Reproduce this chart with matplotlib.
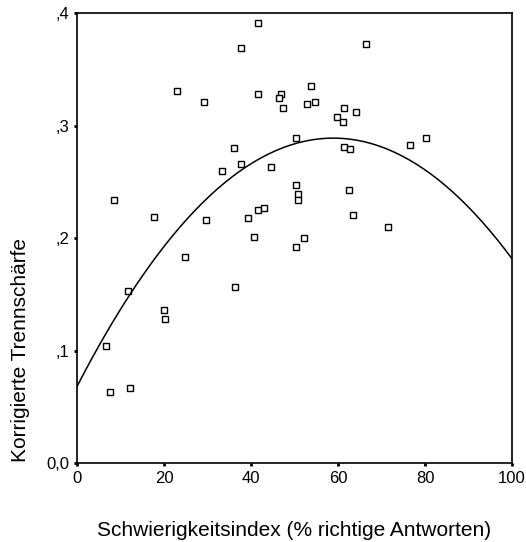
import numpy as np
import matplotlib
matplotlib.use("Agg")
import matplotlib.pyplot as plt

plt.rcParams['font.family'] = ['Liberation Sans', 'DejaVu Sans']

# Schwierigkeitsindex (%) und korrigierte Trennschaerfe je Item
schwierigkeit = [41.6, 37.8, 23.1, 29.2, 41.6, 47.0, 46.4, 47.4, 50.4, 36.1,
                 37.8, 33.3, 44.6, 50.4, 50.8, 50.8, 8.4, 17.6, 29.6, 39.2,
                 41.6, 42.9, 40.6, 66.5, 53.9, 52.9, 54.6, 61.4, 64.1, 59.7,
                 61.1, 61.4, 62.8, 76.5, 80.2, 62.5, 63.4, 71.4, 52.2, 50.3,
                 24.8, 36.4, 11.8, 20.0, 20.3, 6.7, 7.7, 12.1]
trennschaerfe = [0.391, 0.369, 0.331, 0.321, 0.328, 0.328, 0.325, 0.316, 0.289, 0.280,
                 0.266, 0.260, 0.263, 0.247, 0.239, 0.234, 0.234, 0.219, 0.216, 0.218,
                 0.225, 0.227, 0.201, 0.373, 0.335, 0.319, 0.321, 0.316, 0.312, 0.308,
                 0.303, 0.281, 0.279, 0.283, 0.289, 0.243, 0.221, 0.210, 0.200, 0.192,
                 0.183, 0.157, 0.153, 0.136, 0.128, 0.104, 0.063, 0.067]

x_ticks = [0, 20, 40, 60, 80, 100]
y_ticks = [0.0, 0.1, 0.2, 0.3, 0.4]
y_ticklabels = ["0,0", ",1", ",2", ",3", ",4"]

fig = plt.figure(figsize=(5.26, 5.42), dpi=100)
ax = fig.add_axes([77/526, 1-463.3/542, 435/526, 450/542])

ax.plot(schwierigkeit, trennschaerfe, linestyle="none", marker="s", markersize=5,
        markerfacecolor="white", markeredgecolor="black", markeredgewidth=1.0)

# quadratische Anpassung
coef = np.polyfit(schwierigkeit, trennschaerfe, 2)
xs = np.linspace(0, 100, 60)
ax.plot(xs, np.polyval(coef, xs), color="black", linewidth=1.1)

ax.set_xlim(0, 100)
ax.set_ylim(0, 0.4)
ax.set_xticks(x_ticks)
ax.set_yticks(y_ticks)
ax.set_yticklabels(y_ticklabels)
ax.tick_params(direction="out", length=2.5, width=2, labelsize=12, pad=3)
for s in ax.spines.values():
    s.set_linewidth(1.2)

fig.text(294/526, 1-531/542, "Schwierigkeitsindex (% richtige Antworten)",
         ha="center", va="center", fontsize=15)
fig.text(21/526, 1-350/542, "Korrigierte Trennschärfe", rotation=90,
         ha="center", va="center", fontsize=15)

fig.savefig("out.png", dpi=100)
